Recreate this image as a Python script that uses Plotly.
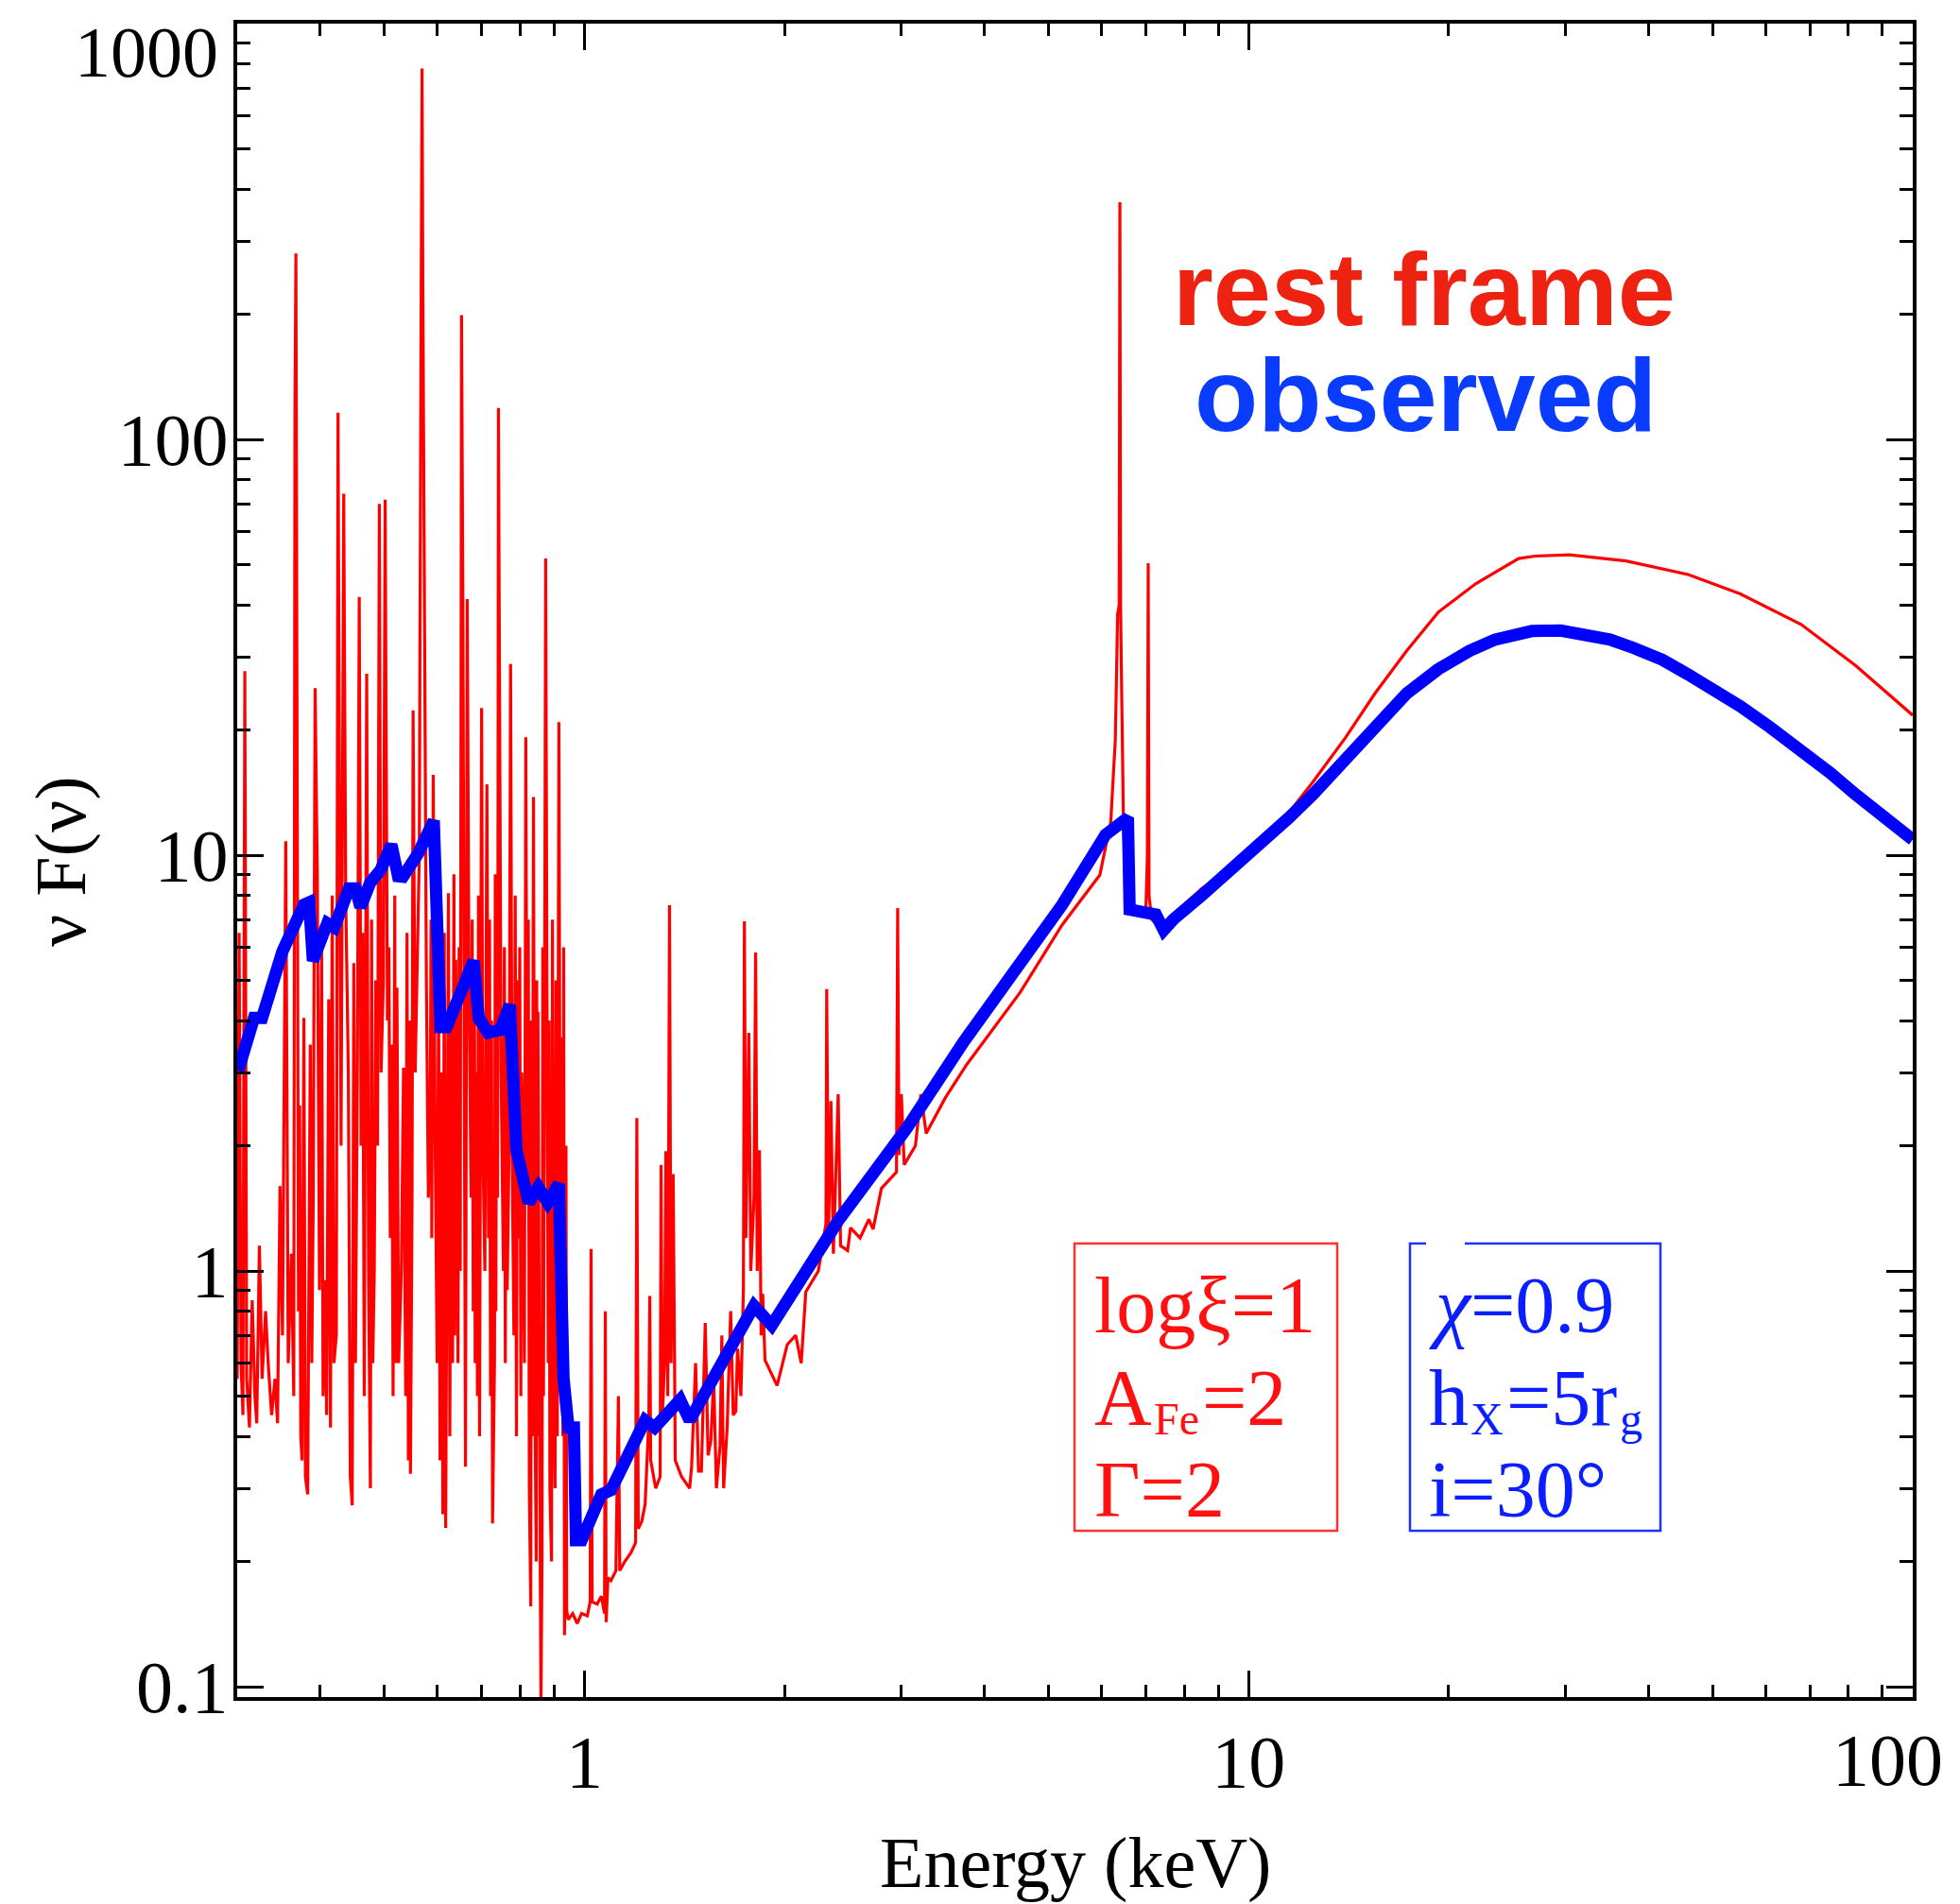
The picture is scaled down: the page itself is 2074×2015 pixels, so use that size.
import plotly.graph_objects as go

# ---------------- data ----------------
# rest-frame spectrum (red): energy (keV) and nuF(nu)
red_E = [0.300, 0.302, 0.304, 0.306, 0.308, 0.310, 0.313, 0.316, 0.319, 0.321,
         0.324, 0.327, 0.331, 0.334, 0.338, 0.342, 0.345, 0.348, 0.351, 0.353,
         0.355, 0.358, 0.362, 0.365, 0.3665, 0.3677, 0.3690, 0.371, 0.3725, 0.374,
         0.3755, 0.378, 0.380, 0.383, 0.3865, 0.3885, 0.3905, 0.393, 0.396, 0.399,
         0.402, 0.404, 0.4065, 0.409, 0.412, 0.4145, 0.417, 0.4195, 0.423, 0.4255,
         0.427, 0.430, 0.434, 0.437, 0.441, 0.444, 0.447, 0.4495, 0.452, 0.455,
         0.458, 0.461, 0.4635, 0.466, 0.470, 0.473, 0.476, 0.478, 0.480, 0.4825,
         0.485, 0.488, 0.491, 0.494, 0.498, 0.501, 0.505, 0.5075, 0.510, 0.5125,
         0.515, 0.518, 0.5195, 0.522, 0.525, 0.530, 0.534, 0.538, 0.5405, 0.543,
         0.545, 0.547, 0.550, 0.552, 0.556, 0.560, 0.564, 0.5675, 0.5695, 0.5710,
         0.574, 0.578, 0.582, 0.586, 0.5875, 0.589, 0.592, 0.596, 0.600, 0.603,
         0.606, 0.609, 0.612, 0.615, 0.618, 0.624, 0.627, 0.630, 0.633, 0.636,
         0.6375, 0.640, 0.645, 0.6475, 0.650, 0.653, 0.656, 0.659, 0.662, 0.666,
         0.670, 0.675, 0.6775, 0.680, 0.683, 0.6845, 0.686, 0.690, 0.6925, 0.695,
         0.700, 0.703, 0.708, 0.713, 0.717, 0.7195, 0.722, 0.7245, 0.727, 0.732,
         0.734, 0.7355, 0.7375, 0.740, 0.742, 0.745, 0.749, 0.755, 0.7575, 0.760,
         0.7625, 0.765, 0.770, 0.774, 0.778, 0.783, 0.7865, 0.790, 0.793, 0.796,
         0.799, 0.802, 0.8045, 0.808, 0.812, 0.816, 0.820, 0.823, 0.826, 0.830,
         0.832, 0.834, 0.838, 0.842, 0.846, 0.8475, 0.849, 0.851, 0.855, 0.858,
         0.860, 0.863, 0.8655, 0.8675, 0.8705, 0.874, 0.878, 0.882, 0.8845, 0.887,
         0.892, 0.895, 0.898, 0.903, 0.906, 0.910, 0.915, 0.919, 0.924, 0.928,
         0.9305, 0.933, 0.936, 0.938, 0.940, 0.945,
         0.960, 0.975, 0.990, 1.010, 1.020, 1.023, 1.027, 1.045, 1.060, 1.072,
         1.075, 1.078, 1.085, 1.096, 1.115, 1.125, 1.130, 1.150, 1.175, 1.194,
         1.199, 1.205, 1.220, 1.234, 1.250, 1.254, 1.258, 1.280, 1.300, 1.304,
         1.310, 1.320, 1.326, 1.335, 1.343, 1.350, 1.360, 1.370, 1.400, 1.440,
         1.450, 1.470, 1.485, 1.500, 1.520, 1.535, 1.550, 1.565, 1.580, 1.600,
         1.610, 1.620, 1.640, 1.660, 1.675, 1.690, 1.700, 1.720, 1.735,
         1.741, 1.750, 1.768, 1.780, 1.800, 1.810, 1.820, 1.834, 1.845, 1.855,
         1.870, 1.950, 2.020, 2.080, 2.120, 2.154, 2.250, 2.310, 2.316, 2.330,
         2.350, 2.370, 2.410, 2.430, 2.490, 2.515, 2.600, 2.680, 2.720, 2.800,
         2.950, 2.962, 2.975, 3.000, 3.030, 3.150, 3.210, 3.270, 3.490, 3.760,
         4.000, 4.530, 5.240, 5.970, 6.200, 6.300, 6.350, 6.385, 6.400, 6.415,
         6.440, 6.480, 6.550, 6.800, 7.000, 7.040, 7.060, 7.080, 7.150, 7.400,
         7.700, 8.500, 10.20, 11.20, 12.50, 14.00, 15.50, 17.30, 19.30, 22.00,
         25.50, 27.00, 30.40, 37.00, 45.90, 55.00, 67.90, 82.00, 100.0]
red_F = [0.55, 6.5, 0.6, 0.45, 27.7, 0.55, 0.42, 0.85, 0.5, 0.43,
         1.15, 0.55, 0.8, 0.6, 0.45, 0.55, 0.43, 1.6, 0.7, 3.0,
         10.8, 0.6, 1.1, 0.5, 120, 280, 35, 0.8, 2.5, 0.4,
         0.35, 4.06, 0.32, 0.29, 3.5, 0.6, 1.5, 25.2, 9.0, 0.9,
         6.0, 0.5, 0.95, 0.45, 4.5, 0.42, 8.0, 0.6, 0.7, 116,
         25, 2.0, 74, 8.0, 3.0, 0.32, 0.273, 5.5, 0.6, 3.0,
         41.8, 2.0, 6.5, 0.5, 27.3, 1.0, 0.3, 7.0, 0.6, 1.0,
         5.0, 2.0, 70, 3.0, 5.0, 71.6, 4.0, 6.0, 1.2, 3.5,
         0.5, 8.0, 0.6, 4.8, 0.6, 1.0, 3.08, 0.5, 6.5, 0.35,
         4.0, 0.325, 1.5, 22.3, 3.0, 6.0, 10.0, 200, 780, 227,
         30, 5.0, 1.5, 2.5, 7.0, 1.2, 15.6, 2.0, 0.6, 5.0,
         0.35, 3.0, 0.26, 6.5, 0.241, 8.1, 0.4, 4.0, 0.6, 9.0,
         0.7, 5.6, 0.6, 6.0, 1.0, 199, 40, 3.0, 0.338, 41.3,
         5.0, 1.5, 7.0, 0.8, 5.0, 0.6, 3.0, 0.5, 8.0, 0.4,
         22.6, 2.0, 1.0, 14.8, 1.2, 7.0, 0.5, 4.0, 0.247, 0.6,
         9.0, 0.8, 5.0, 1.5, 119, 24.6, 3.0, 1.0, 6.0, 0.6,
         4.0, 0.9, 2.0, 28.8, 2.0, 0.7, 8.0, 0.4, 5.0, 1.2,
         6.0, 0.5, 3.0, 2.0, 0.6, 19.2, 1.5, 7.0, 0.3, 0.156,
         4.0, 0.4, 13.8, 0.5, 0.2, 5.0, 0.4, 4.2, 0.3, 0.18,
         0.092, 0.2, 6.0, 0.5, 3.0, 51.7, 5.0, 0.6, 4.0, 0.3,
         0.2, 7.0, 0.6, 0.3, 5.0, 0.4, 20.9, 1.5, 3.64, 0.4,
         6.0, 0.133, 0.2, 2.0, 0.153, 0.145,
         0.15, 0.142, 0.15, 0.148, 0.16, 1.13, 0.16, 0.158, 0.165, 0.15,
         0.80, 0.143, 0.183, 0.18, 0.19, 0.50, 0.19, 0.20, 0.21, 0.222,
         2.33, 0.24, 0.25, 0.275, 0.44, 0.87, 0.35, 0.30, 0.32, 1.80,
         0.45, 0.6, 1.94, 0.5, 7.58, 0.6, 1.71, 0.35, 0.32, 0.30,
         0.34, 0.60, 0.33, 0.33, 0.75, 0.36, 0.39, 0.55, 0.30, 0.38,
         0.70, 0.30, 0.42, 0.80, 0.45, 0.46, 0.65, 0.5, 0.9,
         6.93, 1.2, 3.74, 1.0, 1.5, 5.83, 1.0, 1.95, 0.7, 0.88,
         0.61, 0.53, 0.665, 0.7, 0.6, 0.89, 1.0, 1.3, 4.76, 1.2,
         2.56, 1.1, 2.66, 1.15, 1.12, 1.27, 1.2, 1.33, 1.26, 1.58,
         1.73, 7.46, 1.9, 2.66, 1.8, 2.0, 2.66, 2.14, 2.6, 3.13,
         3.57, 4.68, 6.8, 8.96, 12.0, 19.0, 38.0, 40.0, 372, 40,
         24.6, 12.0, 7.5, 7.3, 7.2, 10.0, 50.4, 8.0, 7.0, 6.6,
         7.2, 8.3, 10.3, 12.0, 15.0, 19.2, 24.5, 31.0, 38.4, 45.0,
         51.7, 52.4, 52.8, 51.0, 47.3, 42.5, 35.9, 28.6, 21.7]

# observed spectrum (blue)
blue_E = [0.301, 0.308, 0.318, 0.327, 0.351, 0.378, 0.385, 0.390, 0.410, 0.420,
          0.442, 0.452, 0.460, 0.476, 0.493, 0.512, 0.524, 0.533, 0.562, 0.593,
          0.600, 0.607, 0.620, 0.681, 0.693, 0.716, 0.747, 0.772, 0.790, 0.805,
          0.824, 0.852, 0.880, 0.915, 0.930, 0.946, 0.964, 0.971, 0.990, 1.060,
          1.096, 1.234, 1.275, 1.393, 1.440, 1.800, 1.914, 2.410, 3.060, 3.720,
          4.530, 5.240, 6.090, 6.400, 6.580, 6.620, 7.050, 7.250, 7.450, 7.700,
          8.500, 10.20, 11.50, 12.50, 14.00, 15.50, 17.30, 19.30, 21.50, 23.50,
          26.70, 29.50, 32.00, 35.00, 38.00, 42.00, 45.90, 50.00, 55.00, 61.00,
          67.90, 75.00, 82.00, 90.00, 100.0]
blue_F = [3.03, 3.47, 4.06, 4.06, 5.87, 7.6, 7.7, 5.57, 6.86, 6.7,
          8.32, 8.32, 7.5, 8.6, 9.2, 10.6, 8.9, 8.87, 10.1, 12.1,
          5.57, 3.86, 3.86, 5.57, 4.06, 3.74, 3.8, 4.37, 1.95, 1.67,
          1.46, 1.59, 1.46, 1.62, 0.55, 0.42, 0.42, 0.225, 0.225, 0.29,
          0.297, 0.437, 0.42, 0.49, 0.437, 0.824, 0.74, 1.32, 2.21, 3.55,
          5.57, 7.6, 11.2, 11.9, 12.3, 7.4, 7.3, 7.2, 6.6, 7.0,
          8.0, 10.3, 12.3, 14.0, 17.0, 20.6, 24.5, 28.0, 31.0, 33.0,
          34.6, 34.7, 34.0, 33.0, 31.5, 29.5, 27.2, 25.2, 22.8, 20.3,
          17.9, 15.8, 14.0, 12.4, 10.9]

x_tickvals = [1, 10]
x_ticktext = ["1", "10"]
x_edge_label = "100"
y_tickvals = [0.1, 1, 10, 100]
y_ticktext = ["0.1", "1", "10", "100"]
y_edge_label = "1000"
x_minor = [0.4, 0.5, 0.6, 0.7, 0.8, 0.9] + [k for k in range(2, 10)] + [10 * k for k in range(2, 10)]
y_minor = [0.1 * k for k in range(2, 10)] + [k for k in range(2, 10)] + \
          [10 * k for k in range(2, 10)] + [100 * k for k in range(2, 10)]

# parameter boxes: (text, x offset from line start in px, is_subscript)
red_box = [
    [("logξ=1", 0, False)],
    [("A", 0, False), ("Fe", 63, True), ("=2", 114, False)],
    [("Γ=2", 0, False)],
]
blue_box = [
    [("<i>χ</i>=0.9", 0, False)],
    [("h", 0, False), ("X", 44, True), ("=5r", 82, False), ("g", 202, True)],
    [("i=30°", 0, False)],
]

# ---------------- figure ----------------
SERIF = "Liberation Serif"
TICK_SIZE = 78
BOX_SIZE = 84
SUB_SIZE = 48
fig = go.Figure()
fig.add_trace(go.Scatter(x=red_E, y=red_F, mode="lines",
                         line=dict(color="#ff0000", width=3.2), showlegend=False))
fig.add_trace(go.Scatter(x=blue_E, y=blue_F, mode="lines",
                         line=dict(color="#0000ff", width=13), showlegend=False))

W, H = 2066, 2007
ML, MT, PW, PH = 243, 17, 1773, 1771
axis_common = dict(showgrid=False, zeroline=False, showline=True, linecolor="black",
                   linewidth=4, mirror="ticks", ticks="inside", ticklen=28,
                   tickwidth=3, tickcolor="black",
                   tickfont=dict(family=SERIF, size=TICK_SIZE, color="black"))
fig.update_xaxes(type="log", range=[-0.5229, 2.0], tickmode="array",
                 tickvals=x_tickvals, ticktext=x_ticktext, ticklabelstandoff=-3,
                 minor=dict(ticks="inside", ticklen=13, tickwidth=2.5, tickcolor="black",
                            tickmode="array", tickvals=x_minor, showgrid=False),
                 **axis_common)
fig.update_yaxes(type="log", range=[-1.025, 3.0], tickmode="array",
                 tickvals=y_tickvals, ticktext=y_ticktext, ticklabelstandoff=-10,
                 minor=dict(ticks="inside", ticklen=14, tickwidth=2.5, tickcolor="black",
                            tickmode="array", tickvals=y_minor, showgrid=False),
                 **axis_common)


def px(xabs):
    return (xabs - 251) / PW


def py(yabs):
    return (1796 - yabs) / PH


ann = []
ann.append(dict(text=x_edge_label, x=px(1997), y=py(1862), xref="paper", yref="paper",
                xanchor="center", yanchor="middle", showarrow=False,
                font=dict(family=SERIF, size=TICK_SIZE, color="black")))
ann.append(dict(text=y_edge_label, x=px(233), y=py(55), xref="paper", yref="paper",
                xanchor="right", yanchor="middle", valign="middle", height=64,
                showarrow=False,
                font=dict(family=SERIF, size=76, color="black")))
ann.append(dict(text="Energy (keV)", x=0.5, y=py(1971), xref="paper", yref="paper",
                xanchor="center", yanchor="middle", showarrow=False,
                font=dict(family=SERIF, size=76, color="black")))
ann.append(dict(text="ν F(ν)", x=px(64), y=py(912), xref="paper", yref="paper",
                xanchor="center", yanchor="middle", showarrow=False, textangle=-90,
                font=dict(family=SERIF, size=76, color="black")))
ann.append(dict(text="<b>rest frame</b>", x=px(1507), y=py(306), xref="paper", yref="paper",
                xanchor="center", yanchor="middle", showarrow=False,
                font=dict(family="Liberation Sans", size=110, color="#ee2211")))
ann.append(dict(text="<b>observed</b>", x=px(1508), y=py(417), xref="paper", yref="paper",
                xanchor="center", yanchor="middle", showarrow=False,
                font=dict(family="Liberation Sans", size=110, color="#0a3cff")))

line_y = [1381, 1479, 1576]
for box, x0, col in ((red_box, 1156, "#ff1111"), (blue_box, 1510, "#0a1eff")):
    for pieces, yy in zip(box, line_y):
        for text, dx, sub in pieces:
            ann.append(dict(text=text, x=px(x0 + dx), y=py(yy + (22 if sub else 0)),
                            xref="paper", yref="paper", xanchor="left", yanchor="middle",
                            showarrow=False,
                            font=dict(family=SERIF, size=SUB_SIZE if sub else BOX_SIZE,
                                      color=col)))

shapes = [
    dict(type="rect", xref="paper", yref="paper", x0=px(1137), x1=px(1415),
         y0=py(1620), y1=py(1316), line=dict(color="#ff3030", width=2.5)),
    dict(type="rect", xref="paper", yref="paper", x0=px(1492), x1=px(1757),
         y0=py(1620), y1=py(1316), line=dict(color="#2030ff", width=2.5)),
    dict(type="line", xref="paper", yref="paper", x0=px(1509), x1=px(1550),
         y0=py(1316), y1=py(1316), line=dict(color="white", width=5)),
]

fig.update_layout(width=W, height=H, margin=dict(l=ML, r=W - ML - PW, t=MT, b=H - MT - PH),
                  paper_bgcolor="white", plot_bgcolor="white",
                  annotations=ann, shapes=shapes, showlegend=False)
fig.write_html("out.html")
